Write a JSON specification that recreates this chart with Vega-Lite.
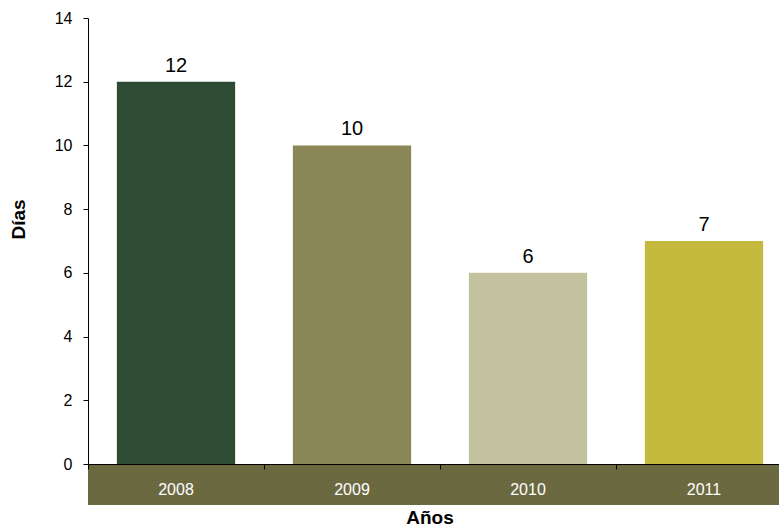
{
  "$schema": "https://vega.github.io/schema/vega-lite/v6.json",
  "padding": {"left": 9, "top": 10, "right": 0, "bottom": 0},
  "config": {"view": {"stroke": null}, "font": "Liberation Sans"},
  "data": {"values": [
    {"year": "2008", "days": 12},
    {"year": "2009", "days": 10},
    {"year": "2010", "days": 6},
    {"year": "2011", "days": 7}
  ]},
  "bounds": "flush",
  "spacing": 0,
  "resolve": {"scale": {"x": "independent"}},
  "vconcat": [
    {
      "width": 704,
      "height": 446,
      "encoding": {
        "x": {"field": "year", "type": "nominal", "sort": null, "axis": null,
              "scale": {"paddingInner": 0.328, "paddingOuter": 0.164}}
      },
      "layer": [
        {
          "mark": {"type": "bar"},
          "encoding": {
            "y": {"field": "days", "type": "quantitative", "scale": {"domain": [0, 14]},
                  "axis": {"values": [0, 2, 4, 6, 8, 10, 12, 14], "title": "Días", "grid": false,
                           "domainColor": "#000", "tickColor": "#000", "tickSize": 5,
                           "labelPadding": 11, "labelFontSize": 16, "labelColor": "#000",
                           "titleFontSize": 19, "titleFontWeight": "bold", "titleColor": "#000",
                           "titlePadding": 26, "titleY": 201}},
            "color": {"field": "year", "type": "nominal",
                      "scale": {"domain": ["2008", "2009", "2010", "2011"],
                                "range": ["#2E4C34", "#8A8655", "#C2C29F", "#C4B93C"]},
                      "legend": null}
          }
        },
        {
          "mark": {"type": "text", "fontSize": 20, "dy": -10, "baseline": "alphabetic", "color": "#000"},
          "encoding": {
            "y": {"field": "days", "type": "quantitative"},
            "text": {"field": "days", "type": "quantitative"}
          }
        }
      ]
    },
    {
      "width": 704,
      "height": 41,
      "title": {"text": "Años", "orient": "bottom", "fontSize": 19, "fontWeight": "bold",
                "color": "#000", "offset": 4, "anchor": "middle", "dx": -10},
      "encoding": {
        "x": {"field": "year", "type": "nominal", "sort": null,
              "scale": {"paddingInner": 0, "paddingOuter": 0},
              "axis": {"orient": "top", "labels": false, "title": null, "domainColor": "#000",
                       "tickColor": "#000", "tickSize": -5, "tickBand": "extent"}}
      },
      "layer": [
        {"mark": {"type": "rect", "color": "#6B6940"}},
        {"mark": {"type": "text", "color": "#fff", "fontSize": 16, "dy": 5},
         "encoding": {"text": {"field": "year", "type": "nominal"}}}
      ]
    }
  ]
}
